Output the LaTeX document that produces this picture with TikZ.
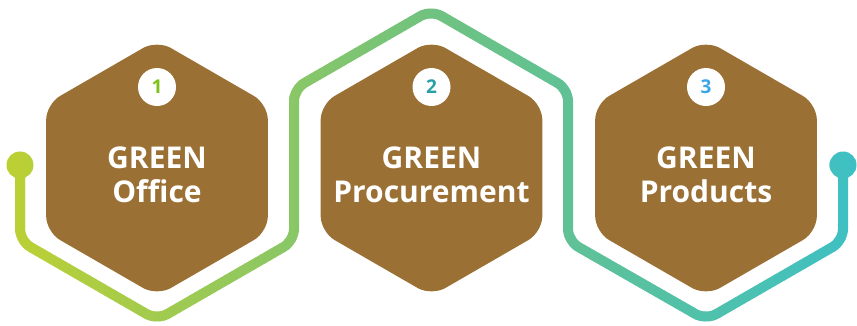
\documentclass[tikz,border=0pt]{standalone}
\usepackage{fontspec}
\setmainfont{Open Sans}
\usetikzlibrary{shapes.geometric}
\definecolor{hexbrown}{RGB}{155,112,52}
\definecolor{snakeA}{RGB}{190,208,50}
\definecolor{snakeB}{RGB}{112,194,128}
\definecolor{snakeC}{RGB}{62,192,195}
\definecolor{num1}{RGB}{124,194,27}
\definecolor{num2}{RGB}{42,160,165}
\definecolor{num3}{RGB}{58,166,232}

\begin{document}
\begin{tikzpicture}[x=1pt, y=-1pt, node distance=274.5pt,
  hexbox/.style={regular polygon, regular polygon sides=6, shape border rotate=30,
    minimum size=256pt, inner sep=0pt, fill=hexbrown, rounded corners=16pt},
  numdot/.style={circle, fill=white, minimum size=38pt, inner sep=0pt,
    font=\fontsize{19}{19}\selectfont\bfseries},
  caption/.style={text=white, align=center, font=\fontsize{30}{34}\selectfont\bfseries},
  track/.style={line width=10pt, rounded corners=12pt}]
\useasboundingbox (0,0) rectangle (857,325);

% corners of the zig-zag track
\coordinate (start) at (20,165);
\coordinate (c1) at (20,241);
\coordinate (c2) at (157,320);
\coordinate (c3) at (294,241);
\coordinate (c4) at (294,89);
\coordinate (c5) at (431,10);
\coordinate (c6) at (568,89);
\coordinate (c7) at (568,241);
\coordinate (c8) at (706,320);
\coordinate (c9) at (843,241);
\coordinate (end) at (843,165);

% track drawn in thin vertical slices to get the colour ramp
\foreach \i in {0,...,171} {
  \ifnum\i<86
    \pgfmathsetmacro\p{\i/86*100}
    \colorlet{slice}{snakeB!\p!snakeA}
  \else
    \pgfmathsetmacro\p{(\i-86)/85*100}
    \colorlet{slice}{snakeC!\p!snakeB}
  \fi
  \begin{scope}
    \clip (\i*5-0.3,-5) rectangle (\i*5+5.3,330);
    \draw[track, slice] (start) -- (c1) -- (c2) -- (c3) -- (c4) -- (c5)
      -- (c6) -- (c7) -- (c8) -- (c9) -- (end);
    \fill[slice] (start) circle (13.5pt) (end) circle (13.5pt);
  \end{scope}
}

% hexagons
\node[hexbox] (office) at (157,168) {};
\node[hexbox, right of=office] (procurement) {};
\node[hexbox, right of=procurement] (products) {};

% numbers
\node[numdot, text=num1] (n1) at ([yshift=81pt]office.center) {1};
\node[numdot, text=num2] (n2) at ([yshift=81pt]procurement.center) {2};
\node[numdot, text=num3] (n3) at ([yshift=81pt]products.center) {3};

% titles
\node[caption] (t1) at ([yshift=-6.5pt]office.center) {GREEN\\Office};
\node[caption] (t2) at ([yshift=-6.5pt]procurement.center) {GREEN\\Procurement};
\node[caption] (t3) at ([yshift=-6.5pt]products.center) {GREEN\\Products};
\end{tikzpicture}
\end{document}
